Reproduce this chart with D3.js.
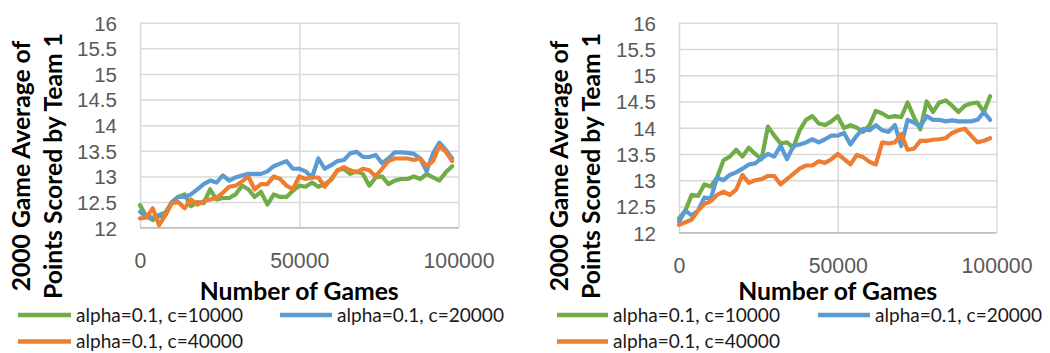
<!DOCTYPE html>
<html><head><meta charset="utf-8">
<script src="https://cdn.jsdelivr.net/npm/d3@7"></script>
<style>
html,body{margin:0;padding:0;background:#fff;}
svg{display:block;font-family:Lato,"Noto Sans",sans-serif;}
</style></head>
<body><svg id="chart" width="1050" height="353"></svg>
<script>
// ---------- data ----------
const games = [0,2000,4000,6000,8000,10000,12000,14000,16000,18000,20000,22000,24000,26000,28000,30000,32000,34000,36000,38000,40000,42000,44000,46000,48000,50000,52000,54000,56000,58000,60000,62000,64000,66000,68000,70000,72000,74000,76000,78000,80000,82000,84000,86000,88000,90000,92000,94000,96000,98000];
const seriesNames = ["alpha=0.1, c=10000","alpha=0.1, c=20000","alpha=0.1, c=40000"];
const seriesColors = ["#70AD47","#5B9BD5","#ED7D31"];
const yTicks = [12,12.5,13,13.5,14,14.5,15,15.5,16];
const xTicks = [0,50000,100000];
const xTitle = "Number of Games";
const yTitle = ["2000 Game Average of","Points Scored by Team 1"];

const leftC10000 = [12.44,12.22,12.15,12.25,12.3,12.5,12.6,12.65,12.42,12.5,12.48,12.75,12.55,12.58,12.58,12.65,12.82,12.75,12.6,12.7,12.45,12.65,12.6,12.6,12.72,12.82,12.8,12.88,12.8,12.85,12.93,13.12,13.15,13.05,13.1,13.05,12.82,12.98,13.0,12.85,12.92,12.95,12.95,13.0,12.95,13.05,12.98,12.92,13.08,13.2];
const leftC20000 = [12.31,12.22,12.2,12.22,12.25,12.5,12.6,12.6,12.65,12.75,12.85,12.92,12.88,13.02,12.92,12.98,13.02,13.05,13.05,13.05,13.1,13.2,13.25,13.3,13.15,13.15,13.1,12.98,13.35,13.15,13.22,13.3,13.32,13.45,13.48,13.38,13.38,13.42,13.26,13.35,13.47,13.47,13.46,13.44,13.35,13.1,13.45,13.66,13.52,13.35];
const leftC40000 = [12.18,12.2,12.38,12.05,12.25,12.48,12.5,12.38,12.55,12.45,12.52,12.55,12.58,12.68,12.8,12.82,12.9,13.0,12.75,12.85,12.85,13.0,12.95,12.82,12.75,13.0,12.95,12.98,12.98,12.8,12.95,13.12,13.18,13.12,13.08,13.15,13.12,13.0,13.15,13.3,13.35,13.35,13.35,13.32,13.35,13.2,13.3,13.6,13.48,13.3];

const rightC10000 = [12.27,12.42,12.72,12.7,12.92,12.88,13.05,13.38,13.45,13.58,13.45,13.62,13.5,13.4,14.02,13.85,13.7,13.72,13.62,13.95,14.15,14.22,14.08,14.05,14.12,14.22,13.99,14.05,14.0,13.92,14.05,14.32,14.27,14.2,14.22,14.2,14.48,14.2,13.97,14.5,14.3,14.48,14.52,14.42,14.3,14.42,14.46,14.48,14.3,14.6];
const rightC20000 = [12.21,12.42,12.33,12.42,12.67,12.65,13.05,13.0,13.1,13.15,13.22,13.3,13.32,13.42,13.5,13.45,13.66,13.4,13.65,13.68,13.72,13.78,13.72,13.78,13.85,13.85,13.9,13.68,13.85,13.98,13.95,14.05,13.95,13.92,14.05,13.65,14.15,14.1,14.02,14.22,14.15,14.15,14.12,14.14,14.12,14.12,14.12,14.15,14.3,14.15];
const rightC40000 = [12.15,12.2,12.25,12.42,12.55,12.6,12.72,12.78,12.72,12.82,13.1,12.95,13.0,13.02,13.08,13.08,12.92,13.02,13.12,13.22,13.28,13.28,13.36,13.33,13.4,13.5,13.4,13.3,13.48,13.44,13.35,13.3,13.72,13.7,13.72,13.88,13.58,13.6,13.75,13.75,13.77,13.78,13.8,13.9,13.95,13.98,13.85,13.72,13.75,13.8];

// ---------- drawing ----------
const svg = d3.select("#chart");

function fitFont(sel, node, target) {
  const w = node.getComputedTextLength();
  const fs = parseFloat(getComputedStyle(node).fontSize);
  sel.style("font-size", (fs * target / w) + "px");
}

function drawChart(cfg) {
  const g = svg.append("g");
  const x = d3.scaleLinear().domain([0, 100000]).range([cfg.x0, cfg.x1]);
  const y = d3.scaleLinear().domain([12, 16]).range([cfg.y0, cfg.y1]);
  const plotW = cfg.x1 - cfg.x0, plotH = cfg.y0 - cfg.y1;

  const ya = g.append("g").attr("transform", `translate(${cfg.x0},0)`)
    .call(d3.axisLeft(y).tickValues(yTicks).tickFormat(d => String(d))
      .tickSizeInner(-plotW).tickSizeOuter(0).tickPadding(23));
  ya.select(".domain").remove();
  ya.selectAll(".tick line").attr("stroke", "#D9D9D9").attr("stroke-width", 1.5);
  ya.selectAll(".tick text").attr("fill", "#595959").style("font-size", "20px").attr("dy", "0.36em");
  const xa = g.append("g").attr("transform", `translate(0,${cfg.y0})`)
    .call(d3.axisBottom(x).tickValues(xTicks).tickFormat(d => String(d))
      .tickSizeInner(-plotH).tickSizeOuter(0).tickPadding(25));
  xa.select(".domain").remove();
  xa.selectAll(".tick line").attr("stroke", "#D9D9D9").attr("stroke-width", 1.5);
  xa.selectAll(".tick text").attr("fill", "#595959").style("font-size", "20px");
  g.append("line").attr("x1", cfg.x0).attr("x2", cfg.x1).attr("y1", cfg.y0).attr("y2", cfg.y0)
    .attr("stroke", "#BFBFBF").attr("stroke-width", 1.5);

  const yt = ya.selectAll(".tick text");
  fitFont(yt, yt.filter(d => d === 15.5).node(), 40);
  const xt = xa.selectAll(".tick text");
  fitFont(xt, xt.filter(d => d === 100000).node(), 71);

  const line = d3.line().x((d, i) => x(games[i])).y(d => y(d));
  cfg.series.forEach((s, k) => {
    g.append("path").datum(s).attr("d", line).attr("fill", "none")
      .attr("stroke", seriesColors[k]).attr("stroke-width", 4.2)
      .attr("stroke-linejoin", "round").attr("stroke-linecap", "round");
  });

  const xtT = g.append("text").attr("x", (cfg.x0 + cfg.x1) / 2).attr("y", 300)
    .attr("text-anchor", "middle").attr("font-weight", "bold").attr("fill", "#000")
    .style("font-size", "24px").text(xTitle);
  fitFont(xtT, xtT.node(), 199);

  const ytG = g.append("g");
  const yl = ytG.selectAll("text").data(yTitle).join("text")
    .attr("transform", (d, i) => `translate(${cfg.ty[i]},166) rotate(-90)`)
    .attr("text-anchor", "middle").attr("font-weight", "bold").attr("fill", "#000")
    .style("font-size", "24px").text(d => d);
  fitFont(yl, yl.filter((d, i) => i === 1).node(), 266);

  const leg = g.append("g");
  cfg.legend.forEach((p, k) => {
    leg.append("line").attr("x1", p[0]).attr("x2", p[1]).attr("y1", p[2]).attr("y2", p[2])
      .attr("stroke", seriesColors[k]).attr("stroke-width", 4.5);
    leg.append("text").attr("class", "lt").attr("x", p[1] + 5).attr("y", p[2] + 6.5)
      .attr("fill", "#1a1a1a").style("font-size", "19px").text(seriesNames[k]);
  });
  const lt = leg.selectAll(".lt");
  fitFont(lt, lt.node(), 167);
}

drawChart({
  x0: 140, x1: 458.5, y0: 227.7, y1: 22.7, ty: [30, 62],
  series: [leftC10000, leftC20000, leftC40000],
  legend: [[18, 71, 315], [280, 332, 315], [18, 71, 341.5]]
});
drawChart({
  x0: 679, x1: 996.5, y0: 232.7, y1: 22.7, ty: [568, 600],
  series: [rightC10000, rightC20000, rightC40000],
  legend: [[557, 608, 315], [818, 870, 315], [557, 608, 341.5]]
});
</script></body></html>
